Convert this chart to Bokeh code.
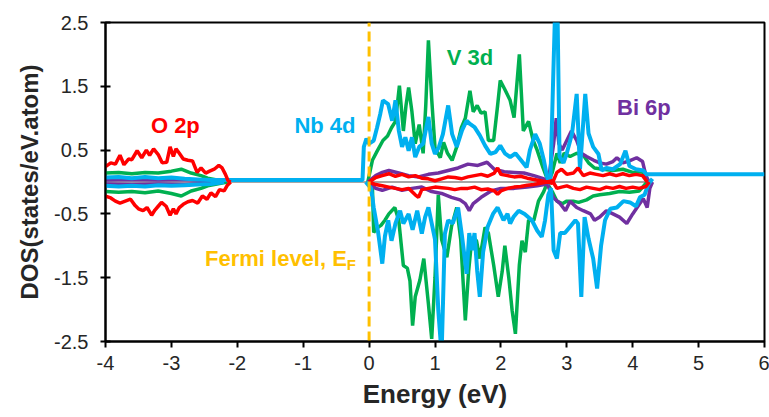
from bokeh.plotting import figure
from bokeh.models import Range1d, FixedTicker, Label
from bokeh.embed import file_html
from bokeh.resources import INLINE

nan = float("nan")

# ---------------- data ----------------
# O 2p (red)
O2P_UP_E = [-4.0, -3.92, -3.85, -3.78, -3.72, -3.65, -3.6, -3.52, -3.45, -3.38, -3.33, -3.27, -3.2, -3.14,
            -3.07, -3.02, -2.97, -2.93, -2.88, -2.82, -2.75, -2.68, -2.61, -2.55, -2.48, -2.42, -2.35, -2.28,
            -2.23, -2.18, -2.14, -2.1, nan,
            0.0, 0.1, 0.2, 0.3, 0.4, 0.5, 0.6, 0.7, 0.8, 0.9, 1.0, 1.1, 1.2, 1.3, 1.4, 1.5, 1.6, 1.7, 1.8, 1.9,
            1.95, 2.0, 2.1, 2.2, 2.3, 2.4, 2.5, 2.6, 2.7, 2.78, 2.85, 2.92, 3.0, 3.1, 3.17, 3.25, 3.35, 3.45,
            3.55, 3.65, 3.75, 3.85, 3.95, 4.05, 4.15, 4.22]
O2P_UP = [0.24, 0.30, 0.28, 0.42, 0.27, 0.36, 0.35, 0.49, 0.38, 0.50, 0.42, 0.52, 0.43, 0.30,
          0.31, 0.55, 0.40, 0.52, 0.45, 0.36, 0.34, 0.33, 0.15, 0.22, 0.14, 0.17, 0.20, 0.26,
          0.22, 0.12, 0.02, 0.0, nan,
          0.0, 0.07, 0.1, 0.13, 0.09, 0.12, 0.08, 0.1, 0.06, 0.05, 0.02, 0.05, 0.08, 0.07, 0.05, 0.08, 0.10,
          0.12, 0.09, 0.14, 0.22, 0.12, 0.1, 0.08, 0.09, 0.06, 0.04, 0.02, 0.0, -0.02, 0.15, 0.2, 0.12, 0.14,
          0.22, 0.1, 0.14, 0.12, 0.1, 0.13, 0.1, 0.13, 0.1, 0.12, 0.1, 0.0]
O2P_DN_E = [-4.0, -3.92, -3.85, -3.78, -3.7, -3.62, -3.55, -3.5, -3.43, -3.37, -3.3, -3.25, -3.2, -3.15,
            -3.08, -3.02, -2.97, -2.93, -2.88, -2.82, -2.75, -2.68, -2.6, -2.53, -2.46, -2.4, -2.33, -2.27,
            -2.2, -2.15, -2.1, nan,
            0.0, 0.1, 0.2, 0.3, 0.4, 0.5, 0.6, 0.7, 0.75, 0.8, 0.9, 1.0, 1.1, 1.2, 1.3, 1.4, 1.5, 1.6, 1.7,
            1.8, 1.9, 1.95, 2.0, 2.1, 2.2, 2.3, 2.4, 2.5, 2.6, 2.7, 2.78, 2.85, 2.92, 3.0, 3.1, 3.2, 3.3, 3.4,
            3.5, 3.6, 3.7, 3.8, 3.9, 4.0, 4.1, 4.2, 4.25]
O2P_DN = [-0.22, -0.25, -0.30, -0.33, -0.30, -0.27, -0.37, -0.42, -0.45, -0.40, -0.52, -0.44, -0.38, -0.32,
          -0.38, -0.52, -0.42, -0.50, -0.40, -0.35, -0.31, -0.29, -0.33, -0.22, -0.27, -0.17, -0.23, -0.12,
          -0.14, -0.05, 0.0, nan,
          0.0, -0.04, -0.06, -0.08, -0.1, -0.12, -0.1, -0.2, -0.24, -0.12, -0.1, -0.08, -0.09, -0.1, -0.12,
          -0.1, -0.1, -0.08, -0.12, -0.11, -0.14, -0.19, -0.14, -0.1, -0.08, -0.07, -0.05, -0.04, -0.02, 0.0,
          0.02, -0.1, -0.08, -0.06, -0.1, -0.12, -0.08, -0.1, -0.12, -0.08, -0.1, -0.07, -0.1, -0.08, -0.1,
          -0.07, 0.0]

# V 3d (green)
V3D_UP_E = [-4.0, -3.8, -3.6, -3.4, -3.2, -3.0, -2.85, -2.7, -2.55, -2.45, -2.35, -2.25, -2.15, nan,
            -0.02, 0.05, 0.12, 0.21, 0.28, 0.34, 0.4, 0.46, 0.52, 0.56, 0.6, 0.65, 0.7, 0.76, 0.82, 0.86, 0.9,
            0.95, 1.0, 1.08, 1.13, 1.19, 1.26, 1.33, 1.4, 1.46, 1.53, 1.58, 1.64, 1.7, 1.76, 1.81, 1.89, 1.95,
            1.99, 2.06, 2.14, 2.2, 2.28, 2.34, 2.42, 2.49, 2.55, 2.64, 2.72, 2.78, 2.85, 2.9, 2.96, 3.05, 3.15,
            3.25, 3.33, 3.42, 3.55, 3.7, 3.85, 4.0, 4.15, 4.22]
V3D_UP = [0.14, 0.15, 0.13, 0.15, 0.14, 0.17, 0.2, 0.14, 0.1, 0.06, 0.04, 0.02, 0.0, nan,
          0.0, 0.34, 0.48, 0.65, 0.72, 0.85, 0.95, 1.51, 0.8, 1.2, 1.48, 1.1, 0.6, 0.9, 0.45, 1.2, 2.22,
          1.3, 0.54, 0.38, 0.62, 0.45, 0.34, 0.55, 0.85, 1.0, 1.43, 1.1, 1.2, 1.08, 1.1, 0.65, 0.65, 1.2,
          1.59, 1.45, 1.28, 1.01, 2.0, 0.8, 0.95, 0.65, 0.5, 0.22, 0.0, 0.15, 0.45, 0.3, 0.45, 0.4, 0.45,
          0.42, 0.3, 0.22, 0.2, 0.18, 0.2, 0.15, 0.16, 0.0]
V3D_DN_E = [-4.0, -3.8, -3.6, -3.4, -3.2, -3.0, -2.85, -2.7, -2.55, -2.45, -2.35, -2.25, -2.15, nan,
            -0.02, 0.05, 0.07, 0.12, 0.18, 0.24, 0.3, 0.39, 0.45, 0.52, 0.58, 0.62, 0.66, 0.7, 0.77, 0.83,
            0.9, 0.95, 1.0, 1.05, 1.1, 1.18, 1.25, 1.33, 1.39, 1.46, 1.51, 1.56, 1.63, 1.68, 1.76, 1.81, 1.89,
            1.96, 2.02, 2.06, 2.12, 2.17, 2.22, 2.28, 2.32, 2.37, 2.42, 2.5, 2.57, 2.65, 2.7, 2.78, 2.85, 2.93,
            3.0, 3.1, 3.18, 3.3, 3.4, 3.5, 3.65, 3.8, 3.95, 4.1, 4.22]
V3D_DN = [-0.15, -0.16, -0.15, -0.17, -0.14, -0.18, -0.22, -0.14, -0.1, -0.06, -0.04, -0.02, 0.0, nan,
          0.0, -0.08, -0.79, -0.72, -0.68, -0.6, -0.5, -0.4, -0.6, -1.31, -1.35, -1.55, -2.25, -1.8, -1.54,
          -1.2, -1.91, -2.46, -1.5, -0.2, -0.9, -1.18, -0.7, -0.4, -0.9, -2.17, -1.4, -0.87, -0.92, -1.2,
          -0.71, -0.8, -1.3, -1.8, -1.4, -1.0, -1.5, -2.01, -2.38, -1.3, -0.92, -1.1, -0.6, -0.6, -0.3,
          -0.15, -0.02, -0.15, -0.3, -0.34, -0.3, -0.3, -0.32, -0.28, -0.22, -0.2, -0.18, -0.15, -0.16,
          -0.14, 0.0]

# Nb 4d (light blue)
NB4D_UP_E = [-4.0, -3.8, -3.6, -3.4, -3.2, -3.0, -2.8, -2.6, -2.4, -2.2, -0.1, -0.08, -0.04, 0.0, 0.07,
             0.12, 0.17, 0.21, 0.25, 0.29, 0.35, 0.4, 0.45, 0.5, 0.55, 0.6, 0.65, 0.7, 0.76, 0.82, 0.9, 0.95,
             1.0, 1.06, 1.12, 1.2, 1.26, 1.33, 1.41, 1.48, 1.53, 1.6, 1.68, 1.76, 1.84, 1.92, 1.99, 2.06, 2.14,
             2.22, 2.3, 2.39, 2.44, 2.52, 2.59, 2.65, 2.7, 2.75, 2.79, 2.82, 2.86, 2.89, 2.95, 3.0, 3.08, 3.15,
             3.2, 3.28, 3.33, 3.4, 3.48, 3.53, 3.6, 3.7, 3.81, 3.89, 3.95, 4.05, 4.16, 4.21, 6.0]
NB4D_UP = [0.07, 0.08, 0.06, 0.08, 0.06, 0.07, 0.05, 0.04, 0.03, 0.03, 0.03, 0.55, 0.68, 0.6, 0.65,
           0.85, 1.07, 1.28, 1.25, 1.22, 0.96, 1.28, 0.81, 0.55, 0.7, 0.49, 0.7, 0.39, 0.55, 0.6, 1.02, 0.6,
           0.44, 0.55, 0.75, 1.2, 0.75, 0.55, 0.81, 0.96, 0.91, 0.86, 0.73, 0.57, 0.44, 0.47, 0.57, 0.45, 0.39,
           0.45, 0.35, 0.23, 0.5, 0.75, 0.6, 0.35, 0.08, -0.03, 1.5, 2.6, 2.6, 0.4, 0.3, 0.45, 0.76, 1.38,
           0.2, 1.38, 0.76, 0.55, 0.44, 0.18, 0.22, 0.2, 0.28, 0.49, 0.25, 0.2, 0.18, 0.12, 0.12]
NB4D_DN_E = [-4.0, -3.8, -3.6, -3.4, -3.2, -3.0, -2.8, -2.6, -2.4, -2.2, nan,
             -0.05, 0.03, 0.07, 0.14, 0.2, 0.24, 0.29, 0.34, 0.4, 0.47, 0.52, 0.6, 0.66, 0.73, 0.8, 0.85, 0.9,
             0.95, 1.0, 1.05, 1.1, 1.15, 1.2, 1.27, 1.35, 1.41, 1.48, 1.52, 1.56, 1.6, 1.64, 1.68, 1.73, 1.8,
             1.88, 1.95, 2.04, 2.1, 2.14, 2.19, 2.27, 2.36, 2.47, 2.55, 2.62, 2.67, 2.72, 2.76, 2.8, 2.85, 2.9,
             2.97, 3.05, 3.13, 3.17, 3.22, 3.27, 3.33, 3.4, 3.46, 3.52, 3.58, 3.66, 3.76, 3.86, 3.96, 4.05,
             4.11, 4.18, 4.24, 4.3]
NB4D_DN = [-0.06, -0.07, -0.06, -0.07, -0.05, -0.06, -0.05, -0.04, -0.03, 0.0, nan,
           0.0, -0.1, -0.4, -0.81, -1.28, -0.85, -0.6, -0.92, -0.65, -0.45, -0.65, -0.5, -0.75, -0.45, -0.81,
           -0.55, -0.4, -0.65, -0.9, -2.01, -2.7, -0.81, -0.6, -0.65, -0.4, -0.85, -1.44, -0.8, -1.07, -0.8,
           -1.39, -1.8, -1.1, -0.7, -0.5, -0.4, -0.6, -0.5, -0.65, -0.55, -0.45, -0.5, -0.6, -0.76, -0.86,
           -0.6, -0.2, -0.1, -1.07, -1.2, -0.8, -0.8, -0.7, -0.6, -0.65, -1.8, -0.55, -0.89, -1.2, -1.67,
           -1.0, -0.6, -0.42, -0.4, -0.3, -0.32, -0.38, -0.24, -0.2, -0.03, 0.05]

# Bi 6p (purple)
BI6P_UP_E = [-4.0, -3.6, -3.2, -2.8, -2.4, -2.2, nan,
             -0.02, 0.1, 0.2, 0.3, 0.45, 0.6, 0.75, 0.9, 1.05, 1.2, 1.35, 1.5, 1.65, 1.79, 1.9, 2.05, 2.2,
             2.35, 2.5, 2.62, 2.72, 2.8, 2.84, 2.88, 2.93, 3.0, 3.07, 3.15, 3.22, 3.3, 3.41, 3.5, 3.6, 3.7,
             3.76, 3.85, 3.95, 4.06, 4.15, 4.2, 4.25]
BI6P_UP = [0.03, 0.04, 0.03, 0.04, 0.02, 0.0, nan,
           0.0, 0.1, 0.15, 0.18, 0.14, 0.1, 0.08, 0.12, 0.14, 0.18, 0.22, 0.28, 0.26, 0.31, 0.2, 0.16, 0.15,
           0.14, 0.1, 0.06, 0.02, 0.6, 1.0, 0.6, 0.5, 0.65, 0.8, 0.65, 0.45, 0.4, 0.34, 0.3, 0.28, 0.32,
           0.38, 0.3, 0.33, 0.38, 0.32, 0.1, 0.0]
BI6P_DN_E = [-4.0, -3.6, -3.2, -2.8, -2.4, -2.2, nan,
             -0.02, 0.1, 0.2, 0.35, 0.5, 0.65, 0.8, 0.95, 1.1, 1.25, 1.38, 1.46, 1.52, 1.58, 1.7, 1.85, 2.0,
             2.2, 2.4, 2.55, 2.7, 2.8, 2.9, 2.98, 3.05, 3.15, 3.25, 3.36, 3.42, 3.5, 3.6, 3.7, 3.8, 3.91, 4.0,
             4.1, 4.16, 4.22, 4.26, 4.3]
BI6P_DN = [-0.03, -0.04, -0.03, -0.04, -0.02, 0.0, nan,
           0.0, -0.1, -0.13, -0.08, -0.13, -0.1, -0.08, -0.15, -0.18, -0.24, -0.28, -0.34, -0.45, -0.34,
           -0.24, -0.14, -0.1, -0.1, -0.08, -0.06, -0.03, -0.25, -0.34, -0.45, -0.3, -0.4, -0.45, -0.5, -0.6,
           -0.55, -0.45, -0.5, -0.55, -0.65, -0.5, -0.35, -0.26, -0.4, -0.1, 0.0]

# zero reference line (grey)
ZERO_E = [-4.0, 4.3]
ZERO_Y = [0.0, 0.0]

# Fermi level
FERMI_E = [0.0, 0.0]
FERMI_Y = [-2.5, 2.5]

X_TICKS = [-4, -3, -2, -1, 0, 1, 2, 3, 4, 5, 6]
Y_TICKS = [-2.5, -1.5, -0.5, 0.5, 1.5, 2.5]
X_TICK_LABELS = ["-4", "-3", "-2", "-1", "0", "1", "2", "3", "4", "5", "6"]
Y_TICK_LABELS = ["-2.5", "-1.5", "-0.5", "0.5", "1.5", "2.5"]

# annotation texts and anchors (data coordinates)
LABELS = [("O 2p", -2.94, 0.885, "#FF0000"),
          ("Nb 4d", -0.67, 0.885, "#00B0F0"),
          ("V 3d", 1.53, 1.95, "#00B050"),
          ("Bi 6p", 4.17, 1.17, "#7030A0")]

RED, BLUE, GREEN, PURPLE, ORANGE, GREY = "#FF0000", "#00B0F0", "#00B050", "#7030A0", "#FFC000", "#A6A6A6"
FONT = "Liberation Sans"

p = figure(width=769, height=417, output_backend="svg", toolbar_location=None,
           x_range=Range1d(-4, 6), y_range=Range1d(-2.5, 2.5),
           min_border_left=105, min_border_right=5, min_border_top=22, min_border_bottom=76)
p.background_fill_color = "white"
p.border_fill_color = "white"
p.xgrid.visible = False
p.ygrid.visible = False
p.outline_line_color = "black"
p.outline_line_width = 2

p.line(ZERO_E, ZERO_Y, line_color=GREY, line_width=2)
p.line(V3D_UP_E, V3D_UP, line_color=GREEN, line_width=3.5)
p.line(V3D_DN_E, V3D_DN, line_color=GREEN, line_width=3.5)
p.line(BI6P_UP_E, BI6P_UP, line_color=PURPLE, line_width=3.5)
p.line(BI6P_DN_E, BI6P_DN, line_color=PURPLE, line_width=3.5)
p.line(NB4D_UP_E, NB4D_UP, line_color=BLUE, line_width=4)
p.line(NB4D_DN_E, NB4D_DN, line_color=BLUE, line_width=4)
p.line(O2P_UP_E, O2P_UP, line_color=RED, line_width=3.5)
p.line(O2P_DN_E, O2P_DN, line_color=RED, line_width=3.5)
p.line(FERMI_E, FERMI_Y, line_color=ORANGE, line_width=3, line_dash="10 5")

for txt, x, y, c in LABELS:
    p.add_layout(Label(x=x, y=y, text=txt, text_color=c, text_font=FONT, text_font_style="bold",
                       text_font_size="22px", text_align="center", text_baseline="middle"))

p.add_layout(Label(x=-2.49, y=-1.2, text="Fermi level, E", text_color=ORANGE, text_font=FONT,
                   text_font_style="bold", text_font_size="22px", text_align="left", text_baseline="middle"))
p.add_layout(Label(x=-0.34, y=-1.3, text="F", text_color=ORANGE, text_font=FONT,
                   text_font_style="bold", text_font_size="15px", text_align="left", text_baseline="middle"))

for ax in (p.xaxis[0], p.yaxis[0]):
    ax.axis_line_color = "black"
    ax.axis_line_width = 2
    ax.major_tick_line_color = "black"
    ax.major_tick_line_width = 2
    ax.minor_tick_line_color = None
    ax.major_label_text_font = FONT
    ax.major_label_text_font_size = "20px"
    ax.major_label_text_color = "#262626"
    ax.axis_label_text_font = FONT
    ax.axis_label_text_font_style = "bold"
    ax.axis_label_text_color = "#262626"

p.xaxis.ticker = FixedTicker(ticks=X_TICKS)
p.yaxis.ticker = FixedTicker(ticks=Y_TICKS)
p.xaxis.major_label_overrides = dict(zip(X_TICKS, X_TICK_LABELS))
p.yaxis.major_label_overrides = dict(zip(Y_TICKS, Y_TICK_LABELS))
p.xaxis.major_tick_in = 0
p.xaxis.major_tick_out = 6
p.yaxis.major_tick_in = 5
p.yaxis.major_tick_out = 5
p.xaxis.major_label_standoff = 8
p.yaxis.major_label_standoff = 12
p.xaxis.axis_label = "Energy (eV)"
p.yaxis.axis_label = "DOS(states/eV.atom)"
p.xaxis.axis_label_text_font_size = "26px"
p.yaxis.axis_label_text_font_size = "24px"
p.xaxis.axis_label_standoff = 6
p.yaxis.axis_label_standoff = 8

open("out.html", "w").write(file_html(p, INLINE))
